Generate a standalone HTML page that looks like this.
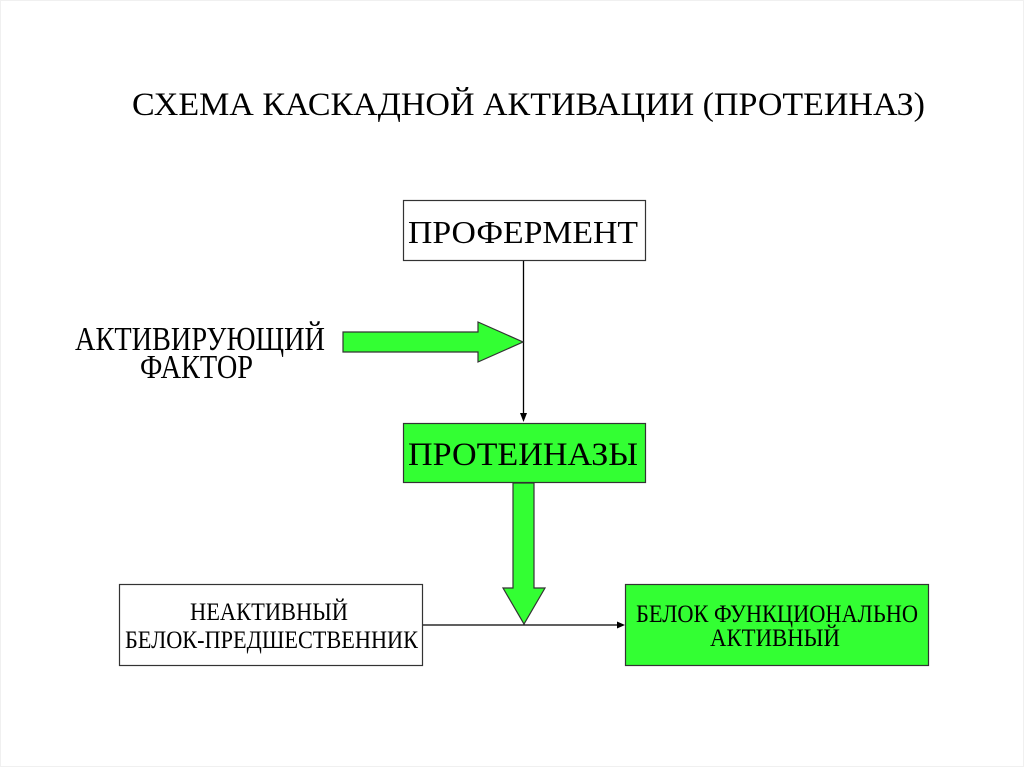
<!DOCTYPE html>
<html>
<head>
<meta charset="utf-8">
<style>
html,body{margin:0;padding:0;background:#fff;}
svg{display:block;}
text{font-family:"Liberation Serif","Noto Serif CJK SC",serif;fill:#000;}
</style>
</head>
<body>
<svg width="1024" height="767" viewBox="0 0 1024 767" xmlns="http://www.w3.org/2000/svg">
  <rect x="0" y="0" width="1024" height="767" fill="#fff"/>
  <rect x="0.5" y="0.5" width="1023" height="766" fill="none" stroke="#f0f0f0" stroke-width="1"/>

  <!-- Title -->
  <text x="132" y="115" font-size="33" textLength="793" lengthAdjust="spacingAndGlyphs">СХЕМА КАСКАДНОЙ АКТИВАЦИИ (ПРОТЕИНАЗ)</text>

  <!-- Proferment box -->
  <rect x="403.5" y="200.5" width="242" height="60" fill="#fff" stroke="#333" stroke-width="1.2"/>
  <text x="408" y="243" font-size="32" textLength="230" lengthAdjust="spacingAndGlyphs">ПРОФЕРМЕНТ</text>

  <!-- vertical connector -->
  <line x1="523.5" y1="261" x2="523.5" y2="414" stroke="#000" stroke-width="1.3"/>
  <polygon points="520,413 527,413 523.5,422" fill="#000"/>

  <!-- activating factor -->
  <text x="75" y="350" font-size="34" textLength="250" lengthAdjust="spacingAndGlyphs">АКТИВИРУЮЩИЙ</text>
  <text x="140" y="378" font-size="34" textLength="113" lengthAdjust="spacingAndGlyphs">ФАКТОР</text>
  <polygon points="343,332 478,332 478,322 523,342 478,362 478,352 343,352" fill="#33ff33" stroke="#333" stroke-width="1.2" stroke-linejoin="miter"/>

  <!-- Proteinazy box -->
  <rect x="403.5" y="423.5" width="242" height="59" fill="#33ff33" stroke="#333" stroke-width="1.2"/>
  <text x="408" y="465" font-size="33" textLength="230" lengthAdjust="spacingAndGlyphs">ПРОТЕИНАЗЫ</text>

  <!-- big down arrow -->
  <polygon points="513,483 534,483 534,588 545,588 524,624 503,588 513,588" fill="#33ff33" stroke="#333" stroke-width="1.2"/>

  <!-- bottom connector -->
  <line x1="423" y1="625" x2="618" y2="625" stroke="#000" stroke-width="1.3"/>
  <polygon points="617,621.5 617,628.5 625,625" fill="#000"/>

  <!-- left bottom box -->
  <rect x="119.5" y="584.5" width="303" height="81" fill="#fff" stroke="#333" stroke-width="1.2"/>
  <text x="190" y="620" font-size="25" textLength="158" lengthAdjust="spacingAndGlyphs">НЕАКТИВНЫЙ</text>
  <text x="125" y="648" font-size="25" textLength="293" lengthAdjust="spacingAndGlyphs">БЕЛОК-ПРЕДШЕСТВЕННИК</text>

  <!-- right bottom box -->
  <rect x="625.5" y="584.5" width="303" height="81" fill="#33ff33" stroke="#333" stroke-width="1.2"/>
  <text x="636" y="622" font-size="25" textLength="282" lengthAdjust="spacingAndGlyphs">БЕЛОК ФУНКЦИОНАЛЬНО</text>
  <text x="710" y="646" font-size="25" textLength="130" lengthAdjust="spacingAndGlyphs">АКТИВНЫЙ</text>
</svg>
</body>
</html>
